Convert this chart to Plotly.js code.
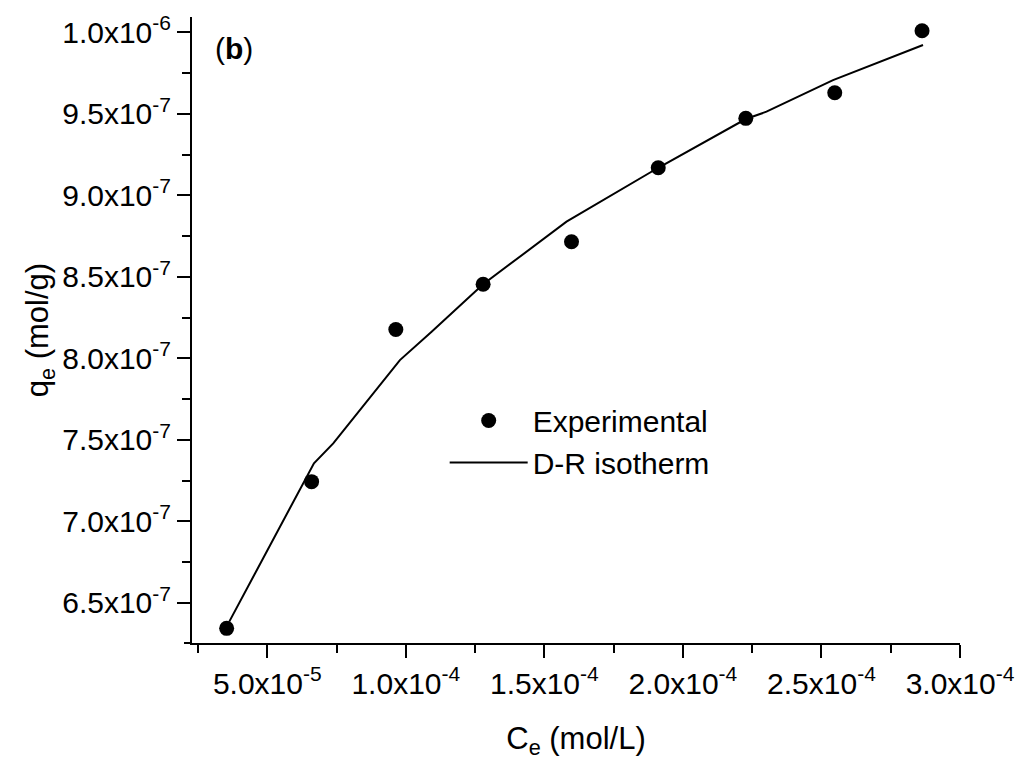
<!DOCTYPE html>
<html>
<head>
<meta charset="utf-8">
<script src="https://cdn.plot.ly/plotly-3.0.1.min.js"></script>
<style>html,body{margin:0;padding:0;background:#fff;}#chart{width:1021px;height:767px;}</style>
</head>
<body>
<div id="chart"></div>
<script>
// Experimental points
const ceExp = [3.535e-5, 6.60e-5, 9.64e-5, 1.279e-4, 1.598e-4, 1.911e-4, 2.227e-4, 2.548e-4, 2.863e-4];
const qeExp = [6.343e-7, 7.243e-7, 8.177e-7, 8.454e-7, 8.715e-7, 9.169e-7, 9.472e-7, 9.629e-7, 1.001e-6];
// D-R isotherm fitted line
const ceDR = [3.629e-5, 6.685e-5, 7.381e-5, 9.787e-5, 1.0931e-4, 1.279e-4, 1.580e-4, 1.911e-4, 2.227e-4, 2.3016e-4, 2.5418e-4, 2.8665e-4];
const qeDR = [6.384e-7, 7.356e-7, 7.478e-7, 7.989e-7, 8.163e-7, 8.454e-7, 8.838e-7, 9.169e-7, 9.468e-7, 9.513e-7, 9.707e-7, 9.922e-7];
// Tick values and labels
const xTickVals = [5e-5, 1e-4, 1.5e-4, 2e-4, 2.5e-4, 3e-4];
const xTickText = ["5.0x10<sup>-5</sup>", "1.0x10<sup>-4</sup>", "1.5x10<sup>-4</sup>", "2.0x10<sup>-4</sup>", "2.5x10<sup>-4</sup>", "3.0x10<sup>-4</sup>"];
const xMinorVals = [2.5e-5, 7.5e-5, 1.25e-4, 1.75e-4, 2.25e-4, 2.75e-4];
const yTickVals = [6.5e-7, 7.0e-7, 7.5e-7, 8.0e-7, 8.5e-7, 9.0e-7, 9.5e-7, 1.0e-6];
const yTickText = ["6.5x10<sup>-7</sup>", "7.0x10<sup>-7</sup>", "7.5x10<sup>-7</sup>", "8.0x10<sup>-7</sup>", "8.5x10<sup>-7</sup>", "9.0x10<sup>-7</sup>", "9.5x10<sup>-7</sup>", "1.0x10<sup>-6</sup>"];
const yMinorVals = [6.75e-7, 7.25e-7, 7.75e-7, 8.25e-7, 8.75e-7, 9.25e-7, 9.75e-7];
const xRange = [2.284e-5, 3.0e-4];
const yRange = [6.253e-7, 1.0094e-6];

const FONT = 'Arial, "Liberation Sans", sans-serif';

const traces = [
  {
    x: ceExp, y: qeExp, type: 'scatter', mode: 'markers', name: 'Experimental',
    marker: {color: '#000', size: 15, symbol: 'circle'}
  },
  {
    x: ceDR, y: qeDR, type: 'scatter', mode: 'lines', name: 'D-R isotherm',
    line: {color: '#000', width: 2}
  }
];

const axisCommon = {
  showgrid: false, zeroline: false, showline: true, linecolor: '#000', linewidth: 2,
  ticks: 'outside', ticklen: 13, tickwidth: 2, tickcolor: '#000',
  tickmode: 'array', tickfont: {family: FONT, size: 30, color: '#000'}
};

const layout = {
  width: 1021, height: 767,
  margin: {l: 192, r: 61, t: 17, b: 124},
  paper_bgcolor: '#fff', plot_bgcolor: '#fff',
  font: {family: FONT, color: '#000', size: 30},
  showlegend: true,
  legend: {
    x: 0.329, y: 0.397, xanchor: 'left', yanchor: 'top',
    font: {family: FONT, size: 30, color: '#000'},
    bgcolor: 'rgba(0,0,0,0)', itemwidth: 78, tracegroupgap: 0
  },
  xaxis: Object.assign({}, axisCommon, {
    range: xRange, tickvals: xTickVals, ticktext: xTickText,
    minor: {tickmode: 'array', tickvals: xMinorVals, ticks: 'outside', ticklen: 8, tickwidth: 2, tickcolor: '#000'},
    title: {text: 'C<sub>e</sub> (mol/L)', font: {family: FONT, size: 31, color: '#000'}, standoff: 28}
  }),
  yaxis: Object.assign({}, axisCommon, {
    range: yRange, tickvals: yTickVals, ticktext: yTickText,
    minor: {tickmode: 'array', tickvals: yMinorVals, ticks: 'outside', ticklen: 8, tickwidth: 2, tickcolor: '#000'},
    title: {text: 'q<sub>e</sub> (mol/g)', font: {family: FONT, size: 31, color: '#000'}, standoff: 4}
  }),
  shapes: [
    {type: 'line', xref: 'paper', yref: 'paper', x0: -8/768, x1: 0, y0: 0, y1: 0, line: {color: '#000', width: 2}}
  ],
  annotations: [
    {text: '(<b>b</b>)', xref: 'paper', yref: 'paper', x: 0.027, y: 0.95, xanchor: 'left', yanchor: 'middle',
     showarrow: false, font: {family: FONT, size: 30, color: '#000'}}
  ]
};

Plotly.newPlot('chart', traces, layout, {displayModeBar: false, staticPlot: true});
</script>
</body>
</html>
